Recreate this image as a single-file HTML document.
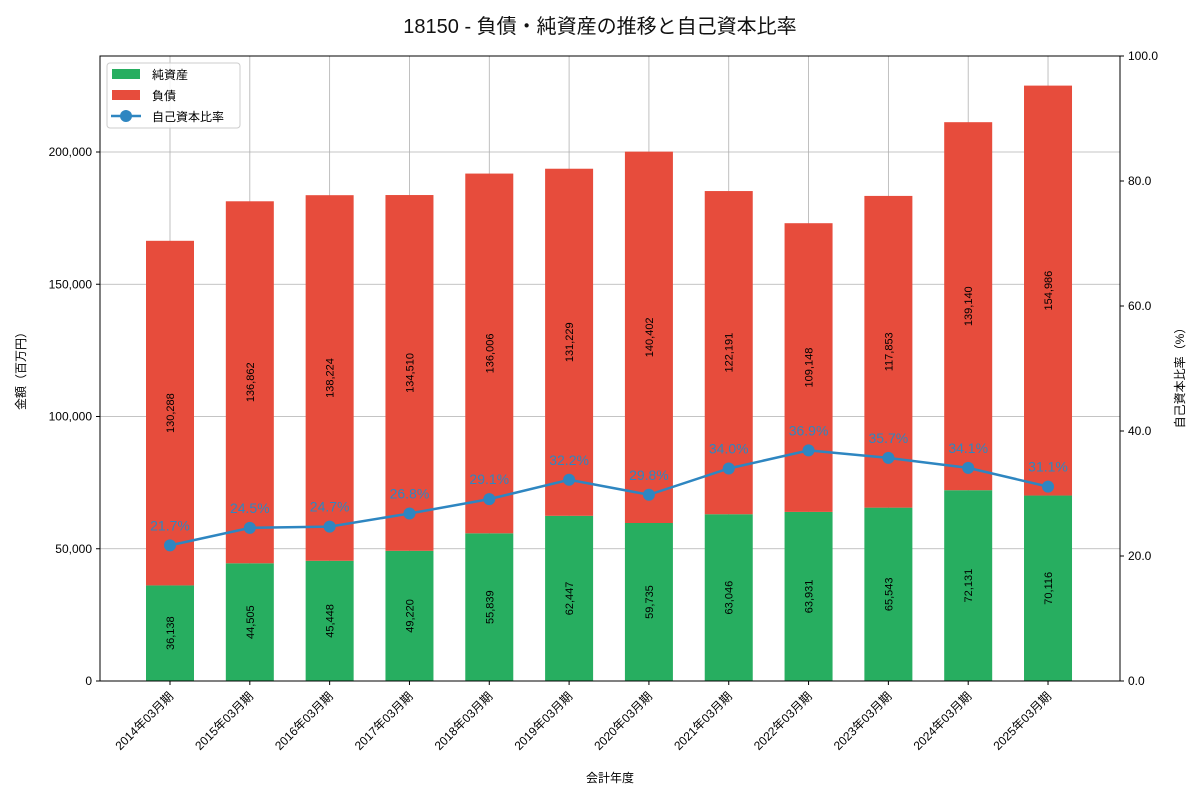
<!DOCTYPE html>
<html><head><meta charset="utf-8"><style>
body{margin:0;background:#fff}
svg{display:block;font-family:"Liberation Sans","Noto Sans CJK JP",sans-serif}
</style></head><body>
<svg id="c" width="1200" height="800" xmlns="http://www.w3.org/2000/svg">
<text x="600" y="33" text-anchor="middle" font-size="20" fill="#111">18150 - 負債・純資産の推移と自己資本比率</text>
</svg>
<script>
const categories=["2014年03月期","2015年03月期","2016年03月期","2017年03月期","2018年03月期","2019年03月期","2020年03月期","2021年03月期","2022年03月期","2023年03月期","2024年03月期","2025年03月期"];
const equity=[36138,44505,45448,49220,55839,62447,59735,63046,63931,65543,72131,70116];
const liabilities=[130288,136862,138224,134510,136006,131229,140402,122191,109148,117853,139140,154986];
const ratio=[21.7,24.5,24.7,26.8,29.1,32.2,29.8,34.0,36.9,35.7,34.1,31.1];
const leftTicks=[0,50000,100000,150000,200000];
const rightTicks=[0,20,40,60,80,100];

const svg=document.getElementById('c');const NS="http://www.w3.org/2000/svg";
const L=100,R=1120,T=56,B=681;
const yL=v=>B-v*(B-T)/236295;
const yR=v=>B-v*(B-T)/100;
const xC=i=>170+i*79.82;
const BW=48;
function el(tag,attrs,parent){const e=document.createElementNS(NS,tag);for(const k in attrs)e.setAttribute(k,attrs[k]);(parent||svg).appendChild(e);return e;}
const fmt=v=>v.toLocaleString('en-US');
// grid
categories.forEach((c,i)=>{const g=el('line',{x1:xC(i),x2:xC(i),y1:T,y2:B,stroke:'#b0b0b0','stroke-width':0.8});

});
leftTicks.forEach(v=>{const g=el('line',{x1:L,x2:R,y1:yL(v),y2:yL(v),stroke:'#b0b0b0','stroke-width':0.8});

});
// bars
categories.forEach((c,i)=>{
const x=xC(i)-BW/2;
const g=el('rect',{x:x,y:yL(equity[i]),width:BW,height:B-yL(equity[i]),fill:'#27ae60'});


const r=el('rect',{x:x,y:yL(equity[i]+liabilities[i]),width:BW,height:yL(equity[i])-yL(equity[i]+liabilities[i]),fill:'#e74c3c'});


const ym1=yL(equity[i]/2);
const t1=el('text',{x:xC(i)+4,y:ym1,'font-size':11,'text-anchor':'middle',transform:`rotate(-90 ${xC(i)+4} ${ym1})`,fill:'#000'});
t1.textContent=fmt(equity[i]);


const ym2=yL(equity[i]+liabilities[i]/2);
const t2=el('text',{x:xC(i)+4,y:ym2,'font-size':11,'text-anchor':'middle',transform:`rotate(-90 ${xC(i)+4} ${ym2})`,fill:'#000'});
t2.textContent=fmt(liabilities[i]);


});
// ratio line
const pl=el('polyline',{points:ratio.map((v,i)=>xC(i)+','+yR(v)).join(' '),fill:'none',stroke:'#2e86c1','stroke-width':2.5});


ratio.forEach((v,i)=>{
const p=el('circle',{cx:xC(i),cy:yR(v),r:6,fill:'#2e86c1'});


const t=el('text',{x:xC(i),y:yR(v)-15,'font-size':14,'text-anchor':'middle',fill:'#2e86c1'});
t.textContent=v.toFixed(1)+'%';


});
// axes frame
const fr=el('rect',{x:L,y:T,width:R-L,height:B-T,fill:'none',stroke:'#000','stroke-width':1});


leftTicks.forEach(v=>{el('line',{x1:L-4,x2:L,y1:yL(v),y2:yL(v),stroke:'#000'});
const t=el('text',{x:L-8,y:yL(v)+4,'font-size':12,'text-anchor':'end',fill:'#000'});t.textContent=fmt(v);

});
rightTicks.forEach(v=>{el('line',{x1:R,x2:R+4,y1:yR(v),y2:yR(v),stroke:'#000'});
const t=el('text',{x:R+8,y:yR(v)+4,'font-size':12,fill:'#000'});t.textContent=v.toFixed(1);

});
categories.forEach((c,i)=>{el('line',{x1:xC(i),x2:xC(i),y1:B,y2:B+4,stroke:'#000'});
const x=xC(i)+4,y=B+16;
const t=el('text',{x:x,y:y,'font-size':12,'text-anchor':'end',transform:`rotate(-45 ${x} ${y})`,fill:'#000'});t.textContent=c;

});
// axis titles
let a=el('text',{x:610,y:782,'font-size':12,'text-anchor':'middle'});a.textContent='会計年度';


a=el('text',{x:25,y:368,'font-size':12,'text-anchor':'middle',transform:'rotate(-90 25 368)'});a.textContent='金額（百万円）';


a=el('text',{x:1184,y:375,'font-size':12,'text-anchor':'middle',transform:'rotate(-90 1184 375)'});a.textContent='自己資本比率（%）';


// legend
const lg=el('g',{});


el('rect',{x:107,y:63,width:133,height:65,rx:3,fill:'#fff','fill-opacity':0.85,stroke:'#ccc'},lg);
el('rect',{x:112,y:69,width:28,height:10,fill:'#27ae60'},lg);
el('rect',{x:112,y:90,width:28,height:10,fill:'#e74c3c'},lg);
el('line',{x1:111,x2:141,y1:116,y2:116,stroke:'#2e86c1','stroke-width':2.5},lg);
el('circle',{cx:126,cy:116,r:6,fill:'#2e86c1'},lg);
[['純資産',79],['負債',100],['自己資本比率',121]].forEach(([s,y])=>{const t=el('text',{x:152,y:y,'font-size':12,fill:'#000'},lg);t.textContent=s;

});
</script>
</body></html>
